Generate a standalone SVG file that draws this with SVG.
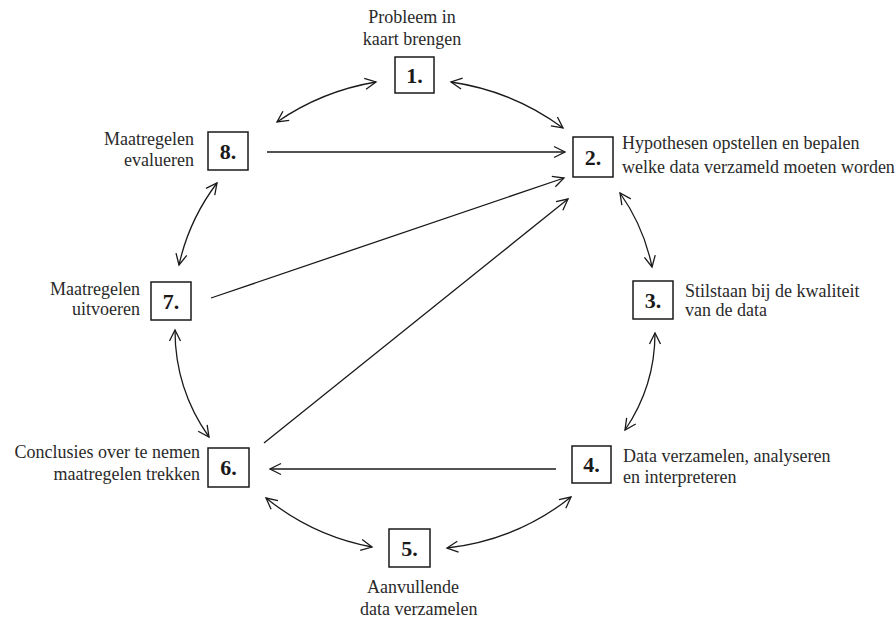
<svg xmlns="http://www.w3.org/2000/svg" width="895" height="619" viewBox="0 0 895 619">
<style>
  .box{fill:#fff;stroke:#1a1a1a;stroke-width:1.5}
  .num{font-family:"Liberation Serif","Times New Roman",serif;font-size:22px;font-weight:bold;fill:#1a1a1a;text-anchor:middle}
  .lbl{font-family:"Liberation Serif","Times New Roman",serif;font-size:18px;fill:#2a2a2a}
  .end{text-anchor:end}
  .mid{text-anchor:middle}
  .con{fill:none;stroke:#1a1a1a;stroke-width:1.3}
</style>
<defs>
  <marker id="ah" markerUnits="userSpaceOnUse" markerWidth="14" markerHeight="14" viewBox="-12 -7 14 14" refX="0" refY="0" orient="auto-start-reverse" overflow="visible">
    <path d="M-11,-5.5 L0,0 L-11,5.5" fill="none" stroke="#1a1a1a" stroke-width="1.3"/>
  </marker>
</defs>
<rect width="895" height="619" fill="#fff"/>
<g id="connectors">
  <path class="con" d="M277,122 Q322,91 376,82" marker-start="url(#ah)" marker-end="url(#ah)"/>
  <path class="con" d="M451,82 Q513,91 563,128" marker-start="url(#ah)" marker-end="url(#ah)"/>
  <path class="con" d="M620,193 Q644,227 652,267" marker-start="url(#ah)" marker-end="url(#ah)"/>
  <path class="con" d="M655,333 Q655,386 625,430" marker-start="url(#ah)" marker-end="url(#ah)"/>
  <path class="con" d="M571,497 Q517,540 447,548" marker-start="url(#ah)" marker-end="url(#ah)"/>
  <path class="con" d="M372,547 Q313,536 266,498" marker-start="url(#ah)" marker-end="url(#ah)"/>
  <path class="con" d="M209,437 Q175,389 175,330" marker-start="url(#ah)" marker-end="url(#ah)"/>
  <path class="con" d="M179,265 Q189,220 217,183" marker-start="url(#ah)" marker-end="url(#ah)"/>
  <path class="con" d="M267,152 L565,152" marker-end="url(#ah)"/>
  <path class="con" d="M211,298 L564,178" marker-end="url(#ah)"/>
  <path class="con" d="M264,443 L568,199" marker-end="url(#ah)"/>
  <path class="con" d="M556,469 L270,469" marker-end="url(#ah)"/>
</g>
<g id="node1">
  <rect class="box" x="395" y="57" width="39" height="36"/>
  <text class="num" x="414.5" y="83">1.</text>
  <text class="lbl mid" x="412" y="23">Probleem in</text>
  <text class="lbl mid" x="412" y="45">kaart brengen</text>
</g>
<g id="node2">
  <rect class="box" x="573" y="137" width="40" height="40"/>
  <text class="num" x="593" y="165">2.</text>
  <text class="lbl" x="622" y="149">Hypothesen opstellen en bepalen</text>
  <text class="lbl" x="622" y="173">welke data verzameld moeten worden</text>
</g>
<g id="node3">
  <rect class="box" x="633" y="281" width="40" height="38"/>
  <text class="num" x="653" y="308">3.</text>
  <text class="lbl" x="685" y="297">Stilstaan bij de kwaliteit</text>
  <text class="lbl" x="685" y="316">van de data</text>
</g>
<g id="node4">
  <rect class="box" x="572" y="446" width="39" height="37"/>
  <text class="num" x="591.5" y="472">4.</text>
  <text class="lbl" x="623" y="462">Data verzamelen, analyseren</text>
  <text class="lbl" x="623" y="483">en interpreteren</text>
</g>
<g id="node5">
  <rect class="box" x="389" y="529" width="41" height="38"/>
  <text class="num" x="409.5" y="556">5.</text>
  <text class="lbl" x="367" y="593">Aanvullende</text>
  <text class="lbl" x="360" y="615">data verzamelen</text>
</g>
<g id="node6">
  <rect class="box" x="208" y="448" width="41" height="39"/>
  <text class="num" x="228.5" y="475">6.</text>
  <text class="lbl end" x="200" y="458">Conclusies over te nemen</text>
  <text class="lbl end" x="200" y="480">maatregelen trekken</text>
</g>
<g id="node7">
  <rect class="box" x="151" y="282" width="40" height="38"/>
  <text class="num" x="171" y="309">7.</text>
  <text class="lbl end" x="140" y="295">Maatregelen</text>
  <text class="lbl end" x="140" y="315">uitvoeren</text>
</g>
<g id="node8">
  <rect class="box" x="208" y="132" width="40" height="38"/>
  <text class="num" x="228" y="159">8.</text>
  <text class="lbl end" x="194" y="145">Maatregelen</text>
  <text class="lbl end" x="194" y="166">evalueren</text>
</g>
</svg>
